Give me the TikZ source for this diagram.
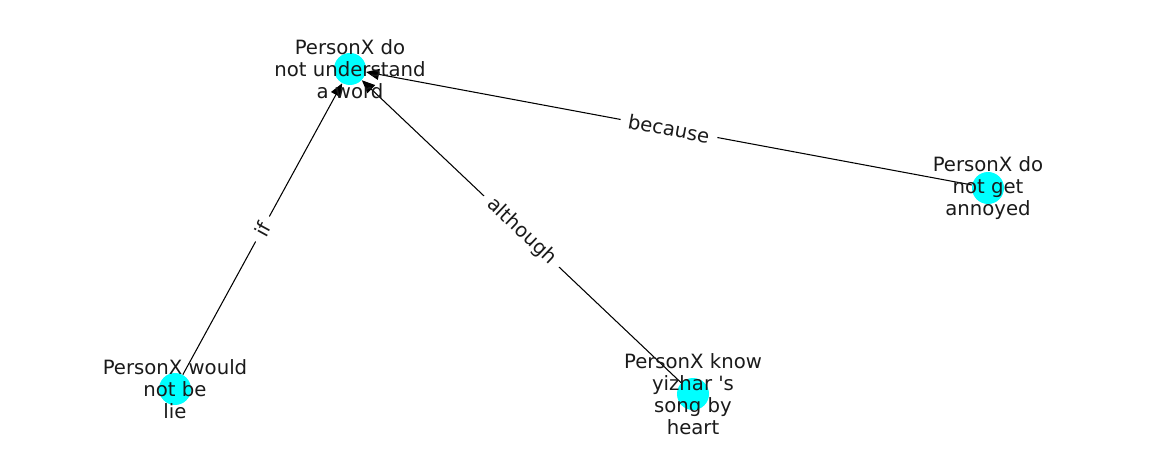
\documentclass[tikz,border=0pt]{standalone}
\usepackage{fontspec}
\setmainfont{DejaVu Sans}[Ligatures=TeXOff]
\usetikzlibrary{arrows.meta}
\definecolor{nodecyan}{RGB}{0,255,255}
\definecolor{inkgray}{RGB}{26,26,26}
\tikzset{
    dot/.style={circle, fill=nodecyan, minimum size=32*0.02cm, inner sep=0pt},
    txt/.style={align=center, inner sep=0pt, text=inkgray, font=\fontsize{11.2pt}{12.6pt}\selectfont},
    rel/.style={-{Triangle[length=13*0.02cm, width=11*0.02cm]}, black, line width=0.6pt},
    lbl/.style={midway, sloped, fill=white, inner xsep=8*0.02cm, inner ysep=2*0.02cm, text=inkgray, font=\fontsize{11.2pt}{12pt}\selectfont}
}
\begin{document}
\begin{tikzpicture}[x=0.02cm, y=-0.02cm]
        \useasboundingbox (0,0) rectangle (1162,462);

        % the four events
        \node[dot] (under) at (350,69) {};
        \node[dot] (annoy) at (988,188) {};
        \node[dot] (lie) at (175,389) {};
        \node[dot] (song) at (693,394) {};

        % relations
        \draw[rel] (lie) -- (under) node[lbl]{if};
        \draw[rel] (song) -- (under) node[lbl]{although};
        \draw[rel] (annoy) -- (under) node[lbl]{because};

        \node[txt] at (under) {PersonX do\\not understand\\a word};
        \node[txt] at (annoy) {PersonX do\\not get\\annoyed};
        \node[txt] at (lie) {PersonX would\\not be\\lie};
        \node[txt] at (song) {PersonX know\\yizhar 's\\song by\\heart};
    \end{tikzpicture}
\end{document}
